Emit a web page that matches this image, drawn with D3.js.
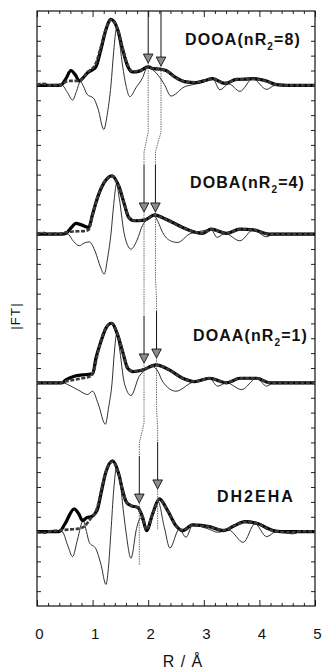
<!DOCTYPE html>
<html>
<head>
<meta charset="utf-8">
<script src="https://cdn.jsdelivr.net/npm/d3@7"></script>
<style>
  body { margin: 0; background: #fff; }
  text { font-family: "Liberation Sans", Arial, sans-serif; fill: #111; }
</style>
</head>
<body>
<svg id="chart" width="323" height="669"></svg>
<script>
// sample names, nR2 values and the vertical offset of each trace
const samples = ['DOOA', 'DOBA', 'DOAA', 'DH2EHA'];
const nR2 = [8, 4, 1, null];
const offsets = [35, 25, 15, 5];
const xTicks = [0, 1, 2, 3, 4, 5];

// [R, |FT|] thick = experiment, fit = dashed, im = thin line
const dooaMag = [[0,0],[0.3,0],[0.43,0.02],[0.52,0.45],[0.61,1.0],[0.69,0.7],[0.76,0.3],[0.84,0.55],[0.91,0.85],[1.0,1.05],[1.06,1.25],[1.15,2.42],[1.24,3.76],[1.33,4.44],[1.45,3.76],[1.54,2.42],[1.63,1.3],[1.72,0.9],[1.84,0.96],[2.0,1.24],[2.1,1.12],[2.2,1.1],[2.32,1.0],[2.5,0.52],[2.65,0.25],[2.86,0.18],[3.0,0.3],[3.16,0.45],[3.38,0.13],[3.59,0.4],[3.75,0.42],[3.89,0.45],[4.13,0.29],[4.31,0.05],[4.5,0],[5,0]];
const dooaFit = [[0,0],[0.06,0.1],[0.14,0.1],[0.2,0],[0.45,0.05],[0.52,0.25],[0.6,0.3],[0.7,0.3],[0.76,0.3],[0.84,0.55],[0.91,0.9],[1.0,1.15],[1.06,1.5],[1.15,2.6],[1.24,3.8],[1.33,4.4],[1.45,3.8],[1.54,2.5],[1.63,1.4],[1.72,0.95],[1.84,0.98],[2.0,1.2],[2.1,1.12],[2.2,1.08],[2.32,0.98],[2.5,0.5],[2.65,0.25],[2.86,0.2],[3.0,0.3],[3.16,0.43],[3.38,0.15],[3.59,0.4],[3.75,0.42],[3.89,0.43],[4.13,0.27],[4.31,0.05],[4.5,0],[5,0]];
const dooaIm = [[0,0],[0.45,0],[0.55,-0.5],[0.64,-0.99],[0.71,-0.4],[0.78,0.25],[0.84,-0.1],[0.9,-0.6],[1.02,-0.88],[1.1,-1.6],[1.2,-2.96],[1.27,-1.8],[1.33,0],[1.38,2.3],[1.43,3.8],[1.48,3.0],[1.54,1.3],[1.6,0],[1.67,-0.76],[1.78,-0.16],[1.9,0.52],[1.98,1.2],[2.06,1.1],[2.14,0.85],[2.29,0.07],[2.41,-0.72],[2.52,-0.5],[2.62,-0.16],[2.8,0.05],[3.0,0.25],[3.16,0.45],[3.29,-0.3],[3.45,0.1],[3.65,-0.4],[3.88,0.45],[4.13,-0.27],[4.28,0],[5,0]];

const dobaMag = [[0,0],[0.45,0],[0.55,0.15],[0.62,0.45],[0.7,0.72],[0.8,0.62],[0.93,0.45],[1.0,1.34],[1.09,2.47],[1.21,3.48],[1.35,3.92],[1.48,3.14],[1.57,2.02],[1.65,1.12],[1.75,0.9],[1.93,0.94],[2.12,1.3],[2.25,1.12],[2.38,0.9],[2.62,0.45],[2.86,0.11],[2.98,0.05],[3.13,0.34],[3.41,0.05],[3.65,0.34],[3.89,0.29],[4.19,0],[5,0]];
const dobaFit = [[0,0],[0.06,0.08],[0.14,0.08],[0.2,0],[0.3,0.05],[0.38,0],[0.5,0.1],[0.65,0.18],[0.85,0.2],[0.93,0.3],[1.0,1.3],[1.09,2.5],[1.21,3.5],[1.35,3.9],[1.48,3.15],[1.57,2.05],[1.65,1.15],[1.75,0.92],[1.93,0.95],[2.12,1.28],[2.25,1.1],[2.38,0.88],[2.62,0.43],[2.86,0.12],[2.98,0.06],[3.13,0.32],[3.41,0.06],[3.65,0.33],[3.89,0.28],[4.19,0],[5,0]];
const dobaIm = [[0,0],[0.55,0],[0.66,-0.5],[0.76,-0.78],[0.85,-0.6],[0.94,-0.52],[1.05,-1.2],[1.14,-2.2],[1.21,-2.69],[1.27,-1.6],[1.33,0],[1.38,2.0],[1.43,3.36],[1.48,2.4],[1.57,0],[1.69,-1.01],[1.8,-0.4],[1.9,0.6],[2.11,1.23],[2.18,0.8],[2.26,0.11],[2.4,-0.45],[2.53,-0.56],[2.74,0],[2.95,0.2],[3.13,0.3],[3.24,-0.22],[3.38,0.05],[3.65,-0.45],[3.89,0.29],[4.13,-0.18],[4.25,0],[5,0]];

const doaaMag = [[0,0],[0.45,0],[0.52,0.2],[0.67,0.45],[0.82,0.54],[1.0,0.6],[1.06,1.66],[1.15,2.78],[1.24,3.68],[1.34,4.01],[1.45,3.23],[1.54,2.1],[1.63,0.99],[1.72,0.76],[1.9,0.87],[2.14,1.21],[2.38,0.87],[2.62,0.31],[2.83,0.09],[3.1,0.31],[3.41,0],[3.65,0.31],[3.95,0.31],[4.19,0],[5,0]];
const doaaFit = [[0,0],[0.4,0],[0.5,0.1],[0.65,0.2],[0.8,0.3],[0.95,0.42],[1.03,0.9],[1.08,1.8],[1.15,2.85],[1.24,3.7],[1.34,4.0],[1.45,3.25],[1.54,2.15],[1.63,1.05],[1.72,0.78],[1.9,0.88],[2.14,1.2],[2.38,0.86],[2.62,0.3],[2.83,0.1],[3.1,0.3],[3.41,0.02],[3.65,0.3],[3.95,0.3],[4.19,0],[5,0]];
const doaaIm = [[0,0],[0.46,0],[0.6,-0.2],[0.75,-0.5],[0.91,-0.78],[1.0,-0.56],[1.1,-1.4],[1.23,-2.78],[1.29,-1.6],[1.35,0],[1.39,2.0],[1.43,3.23],[1.48,2.4],[1.57,0],[1.69,-0.85],[1.84,0.45],[2.08,1.1],[2.17,0.8],[2.26,0.09],[2.5,-0.56],[2.77,0],[3.1,0.31],[3.25,-0.22],[3.41,0],[3.68,-0.45],[3.95,0.31],[4.13,-0.22],[4.25,0],[5,0]];

const dh2ehaMag = [[0,0],[0.4,0],[0.5,0.5],[0.67,1.53],[0.75,1.2],[0.82,0.74],[0.9,0.95],[0.97,1.0],[1.05,1.25],[1.09,1.53],[1.15,2.53],[1.23,3.88],[1.36,4.75],[1.47,3.88],[1.54,2.76],[1.61,1.97],[1.69,1.75],[1.81,1.63],[1.9,0.96],[1.97,0.07],[2.08,1.2],[2.2,2.2],[2.35,1.41],[2.5,0.4],[2.62,0.07],[2.8,0.45],[3.1,0.34],[3.35,0.07],[3.55,0.4],[3.74,0.67],[3.95,0.56],[4.25,0.07],[4.4,0],[5,0]];
const dh2ehaFit = [[0,0],[0.06,-0.08],[0.14,-0.08],[0.2,0],[0.45,0.1],[0.6,0.15],[0.75,0.2],[0.85,0.35],[0.97,0.9],[1.05,1.3],[1.09,1.7],[1.15,2.7],[1.23,3.95],[1.36,4.7],[1.47,3.85],[1.54,2.8],[1.61,2.0],[1.69,1.75],[1.81,1.6],[1.9,0.95],[1.97,0.15],[2.08,1.2],[2.2,2.15],[2.35,1.4],[2.5,0.42],[2.62,0.1],[2.8,0.42],[3.1,0.32],[3.35,0.1],[3.55,0.4],[3.74,0.65],[3.95,0.55],[4.25,0.05],[4.6,-0.05],[4.75,0.03],[5,0]];
const dh2ehaIm = [[0,0],[0.45,0],[0.55,-0.9],[0.64,-1.68],[0.73,-0.5],[0.83,0.74],[0.89,0],[0.94,-0.72],[1.06,-1.16],[1.15,-2.2],[1.24,-3.55],[1.29,-2.2],[1.33,0],[1.38,2.8],[1.43,4.3],[1.49,3.5],[1.55,1.5],[1.6,0],[1.69,-1.79],[1.79,0.2],[1.86,0.9],[1.92,0.5],[1.98,0.1],[2.08,1.3],[2.17,2.1],[2.29,0.29],[2.39,-1.1],[2.56,0.18],[2.68,-0.38],[2.8,0.45],[3.1,0.15],[3.25,-0.04],[3.45,0.1],[3.71,-0.72],[3.92,0.52],[4.13,-0.34],[4.3,0],[4.6,-0.15],[4.75,0],[5,0]];

// arrow positions (R) and tip heights relative to each trace's offset
const arrowR = [[2.0, 2.23], [1.925, 2.13], [1.925, 2.15], [1.84, 2.17]];
const arrowTip = [[1.5, 1.3], [1.49, 1.49], [1.34, 1.67], [1.92, 2.87]];
const tailEnd = [-2.24, 0.11];

const mags = [dooaMag, dobaMag, doaaMag, dh2ehaMag];
const fits = [dooaFit, dobaFit, doaaFit, dh2ehaFit];
const ims = [dooaIm, dobaIm, doaaIm, dh2ehaIm];

const svg = d3.select('#chart');
const mLeft = 37, mRight = 315, mTop = 11, mBottom = 606;
const x = d3.scaleLinear().domain([0, 5]).range([mLeft, mRight]);
const y = d3.scaleLinear().domain([0, 40]).range([mBottom, mTop]);

// axes: ticks point inward on all four sides
const minorX = d3.range(0, 5.001, 0.2).filter(v => Math.abs(v - Math.round(v)) > 1e-6);
const yTickVals = d3.range(1, 40);

function addAxis(axis, tr) {
  const g = svg.append('g').attr('transform', tr).call(axis);
  g.select('.domain').remove();
  g.selectAll('line').attr('stroke', '#222');
  return g;
}

addAxis(d3.axisBottom(x).tickValues(minorX).tickSize(-3).tickFormat(''), `translate(0,${mBottom})`);
addAxis(d3.axisTop(x).tickValues(minorX).tickSize(-3).tickFormat(''), `translate(0,${mTop})`);
addAxis(d3.axisTop(x).tickValues(xTicks).tickSize(-6).tickFormat(''), `translate(0,${mTop})`);
const xAx = addAxis(d3.axisBottom(x).tickValues(xTicks).tickSize(-6).tickPadding(22).tickFormat(d3.format('d')), `translate(0,${mBottom})`);
xAx.selectAll('text').attr('font-size', 15).attr('dx', 2).attr('fill', '#111');
addAxis(d3.axisLeft(y).tickValues(yTickVals).tickSize(-4).tickFormat(''), `translate(${mLeft},0)`);
addAxis(d3.axisRight(y).tickValues(yTickVals).tickSize(-4).tickFormat(''), `translate(${mRight},0)`);

svg.append('rect')
  .attr('x', mLeft).attr('y', mTop)
  .attr('width', mRight - mLeft).attr('height', mBottom - mTop)
  .attr('fill', 'none').attr('stroke', '#111').attr('stroke-width', 1.2);

// traces
samples.forEach((name, i) => {
  const off = offsets[i];
  const line = d3.line()
    .x(d => x(d[0]))
    .y(d => y(d[1] + off))
    .curve(d3.curveMonotoneX);

  svg.append('path').attr('d', line(ims[i]))
    .attr('fill', 'none').attr('stroke', '#1a1a1a').attr('stroke-width', 0.9);
  svg.append('path').attr('d', line(mags[i]))
    .attr('fill', 'none').attr('stroke', '#000').attr('stroke-width', 3.2);
  svg.append('path').attr('d', line(fits[i]))
    .attr('fill', 'none').attr('stroke', '#3a3a3a').attr('stroke-width', 2.6)
    .attr('stroke-dasharray', '4,1.6');
});

// arrows with dotted guide lines between the traces
const headH = 9, headW = 4.8, shaftLen = 38;
const tips = arrowR.map((rs, i) => rs.map((r, j) => [x(r), y(offsets[i] + arrowTip[i][j])]));
const shaftTop = tips.map((ts, i) => ts.map(t => i === 0 ? mTop : t[1] - headH - shaftLen));

const guide = svg.append('g').attr('fill', 'none').attr('stroke', '#555')
  .attr('stroke-width', 0.9).attr('stroke-dasharray', '1.4,1');
for (let i = 0; i < tips.length - 1; i++) {
  for (let j = 0; j < 2; j++) {
    const [x0, y0] = tips[i][j];
    const x1 = tips[i + 1][j][0];
    const y1 = shaftTop[i + 1][j];
    guide.append('path').attr('d', d3.line()([[x0, y0], [x0, y1 - 33], [x1, y1 - 13], [x1, y1]]));
  }
}
const last = tips.length - 1;
tips[last].forEach((t, j) => {
  guide.append('path').attr('d', d3.line()([t, [t[0], y(offsets[last] + tailEnd[j])]]));
});

tips.forEach((ts, i) => ts.forEach((t, j) => {
  svg.append('line')
    .attr('x1', t[0]).attr('x2', t[0])
    .attr('y1', shaftTop[i][j]).attr('y2', t[1] - headH)
    .attr('stroke', '#111').attr('stroke-width', 1);
  svg.append('path')
    .attr('d', `M${t[0] - headW},${t[1] - headH}L${t[0] + headW},${t[1] - headH}L${t[0]},${t[1]}Z`)
    .attr('fill', '#8c8c8c').attr('stroke', '#111').attr('stroke-width', 0.9);
}));

// sample labels
const labelPos = [[185, 45], [190, 188], [193, 341], [217, 501.5]];
samples.forEach((name, i) => {
  const t = svg.append('text')
    .attr('x', labelPos[i][0]).attr('y', labelPos[i][1])
    .attr('font-size', 16).attr('font-weight', 'bold').attr('letter-spacing', 1.1);
  if (nR2[i] === null) {
    t.attr('letter-spacing', 2).text(name);
  } else {
    t.append('tspan').text(name + '(nR');
    t.append('tspan').attr('font-size', 10).attr('dy', 5).text('2');
    t.append('tspan').attr('dy', -5).text('=' + nR2[i] + ')');
  }
});

// axis titles
svg.append('text')
  .attr('transform', `translate(20,316) rotate(-90)`)
  .attr('text-anchor', 'middle').attr('font-size', 13).attr('letter-spacing', 1.2)
  .text('|FT|');
svg.append('text')
  .attr('x', 183).attr('y', 667)
  .attr('text-anchor', 'middle').attr('font-size', 16).attr('letter-spacing', 1)
  .text('R / Å');
</script>
</body>
</html>
